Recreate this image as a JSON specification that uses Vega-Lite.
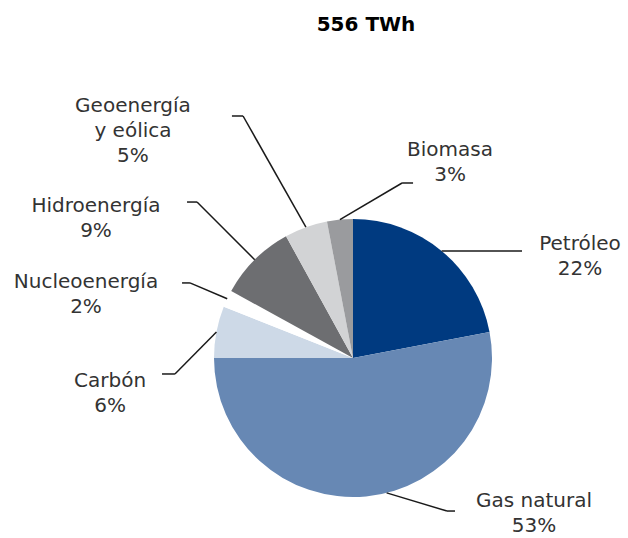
{
  "$schema": "https://vega.github.io/schema/vega-lite/v6.json",
  "width": 628,
  "height": 538,
  "autosize": "none",
  "padding": 0,
  "background": "white",
  "config": {"view": {"stroke": null}, "font": "DejaVu Sans"},
  "title": {"text": "556 TWh", "fontSize": 20, "fontWeight": "bold", "font": "DejaVu Sans", "color": "#000000", "anchor": "middle", "dx": 52, "offset": -51, "baseline": "alphabetic"},
  "params": [
    {"name": "disp", "value": {
      "Petróleo": [0.647, 0.770, 1.216, 1.633, 0.777],
      "Gas natural": [0.676, -1.101, 0.734, 1.302, -1.072, 166],
      "Carbón": [-1.281, -0.115, -1.374, -1.748, -0.209],
      "Nucleoenergía": [-1.173, 0.540, -1.230, -1.921, 0.504],
      "Hidroenergía": [-1.122, 1.122, -1.194, -1.849, 1.050],
      "Geoenergía y eólica": [-0.791, 1.741, -0.871, -1.583, 1.770],
      "Biomasa": [0.353, 1.259, 0.432, 0.698, 1.453]
    }}
  ],
  "data": {"values": [
    {"fuente": "Petróleo", "pct": 22},
    {"fuente": "Gas natural", "pct": 53},
    {"fuente": "Carbón", "pct": 6},
    {"fuente": "Nucleoenergía", "pct": 2},
    {"fuente": "Hidroenergía", "pct": 9},
    {"fuente": "Geoenergía y eólica", "pct": 5},
    {"fuente": "Biomasa", "pct": 3}
  ]},
  "transform": [
    {"window": [{"op": "row_number", "as": "idx"}, {"op": "sum", "field": "pct", "as": "acum"}], "frame": [null, 0]},
    {"calculate": "length(disp[datum.fuente]) > 5 ? disp[datum.fuente][5] * PI / 180 : (datum.acum - datum.pct / 2) / 100 * 2 * PI", "as": "medio"},
    {"calculate": "sin(datum.medio)", "as": "sx"},
    {"calculate": "cos(datum.medio)", "as": "sy"},
    {"calculate": "disp[datum.fuente][0]", "as": "ex"},
    {"calculate": "disp[datum.fuente][1]", "as": "ey"},
    {"calculate": "disp[datum.fuente][2]", "as": "tx"},
    {"calculate": "disp[datum.fuente][3]", "as": "lx"},
    {"calculate": "disp[datum.fuente][4]", "as": "ly"},
    {"calculate": "replace(datum.fuente, ' y ', '\\ny ') + '\\n' + datum.pct + '%'", "as": "etiqueta"}
  ],
  "layer": [
    {
      "mark": {"type": "arc", "radius": 139},
      "encoding": {
        "x": {"datum": 0, "type": "quantitative", "scale": {"domain": [-2.5396, 1.9784], "nice": false, "zero": false}, "axis": null},
        "y": {"datum": 0, "type": "quantitative", "scale": {"domain": [-1.2950, 2.5755], "nice": false, "zero": false}, "axis": null},
        "theta": {"field": "pct", "type": "quantitative", "stack": true},
        "order": {"field": "idx", "type": "quantitative"},
        "color": {"field": "fuente", "type": "nominal", "legend": null,
          "scale": {"domain": ["Petróleo", "Gas natural", "Carbón", "Nucleoenergía", "Hidroenergía", "Geoenergía y eólica", "Biomasa"],
                    "range": ["#003a80", "#6788b4", "#cdd9e7", "#ffffff", "#6d6e71", "#d2d3d5", "#9a9b9e"]}}
      }
    },
    {
      "mark": {"type": "rule", "color": "#1a1a1a", "strokeWidth": 1.5},
      "encoding": {
        "x": {"field": "sx", "type": "quantitative"},
        "y": {"field": "sy", "type": "quantitative"},
        "x2": {"field": "ex"},
        "y2": {"field": "ey"}
      }
    },
    {
      "mark": {"type": "rule", "color": "#1a1a1a", "strokeWidth": 1.5},
      "encoding": {
        "x": {"field": "ex", "type": "quantitative"},
        "y": {"field": "ey", "type": "quantitative"},
        "x2": {"field": "tx"}
      }
    },
    {
      "mark": {"type": "text", "align": "center", "baseline": "alphabetic", "fontSize": 20, "lineHeight": 25, "lineBreak": "\n", "color": "#333333", "font": "DejaVu Sans"},
      "encoding": {
        "x": {"field": "lx", "type": "quantitative"},
        "y": {"field": "ly", "type": "quantitative"},
        "text": {"field": "etiqueta"}
      }
    }
  ]
}
